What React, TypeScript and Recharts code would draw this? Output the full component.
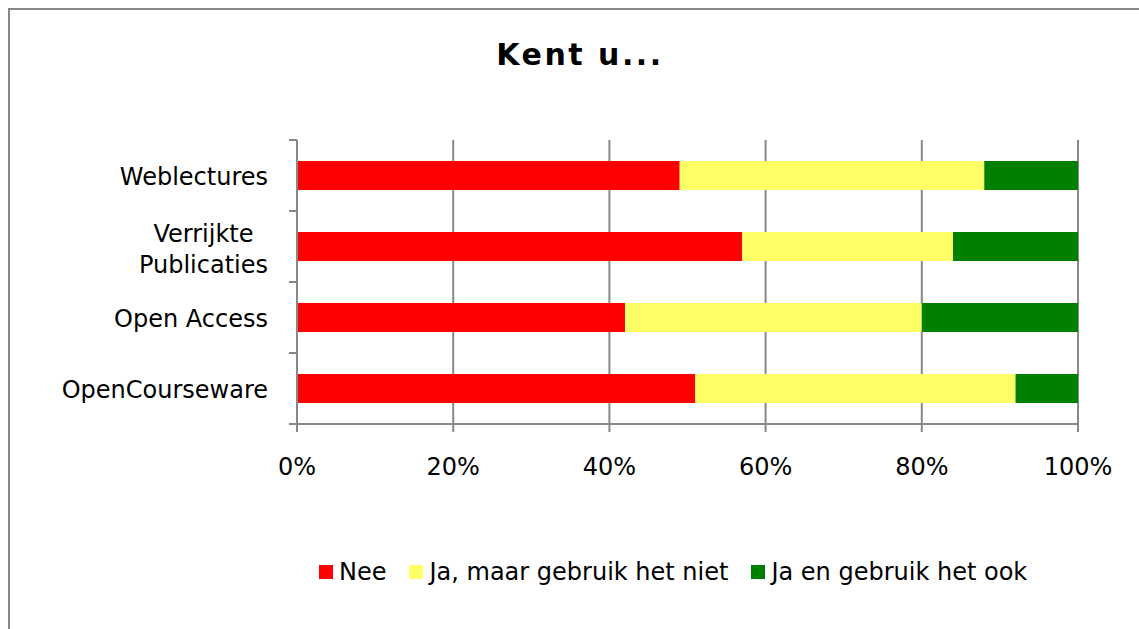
import { BarChart, Bar, XAxis, YAxis, CartesianGrid, Legend } from 'recharts'

const categories = ['Weblectures', 'Verrijkte Publicaties', 'Open Access', 'OpenCourseware']
const nee = [49, 57, 42, 51]
const jaMaarNiet = [39, 27, 38, 41]
const jaEnOok = [12, 16, 20, 8]
const xTicks = [0, 0.2, 0.4, 0.6, 0.8, 1]

const SERIES = [
  { key: 'nee', name: 'Nee', color: '#FF0000' },
  { key: 'jaMaarNiet', name: 'Ja, maar gebruik het niet', color: '#FFFF66' },
  { key: 'jaEnOok', name: 'Ja en gebruik het ook', color: '#008000' },
]

const data = categories.map((category, i) => ({
  category,
  nee: nee[i],
  jaMaarNiet: jaMaarNiet[i],
  jaEnOok: jaEnOok[i],
}))

const FONT = "'DejaVu Sans', Verdana, sans-serif"
const FS = 24
const GRAY = '#888888'
const W = 1139
const H = 629
const MARGIN = { top: 140, right: 61, bottom: 145, left: 0 }
const Y_AXIS_W = 297
const X_AXIS_H = 60
const BAND = (H - MARGIN.top - MARGIN.bottom - X_AXIS_H) / categories.length
const LABEL_RIGHT = Y_AXIS_W - 29

let ctx: CanvasRenderingContext2D | null = null
function textWidth(s: string) {
  if (!ctx) ctx = document.createElement('canvas').getContext('2d')
  if (!ctx) return s.length * 12
  ctx.font = `${FS}px ${FONT}`
  return ctx.measureText(s).width
}

function CategoryTick(props: any) {
  const { y, payload, index } = props
  const label: string = payload.value
  const lines = label.length > 15 ? label.split(' ') : [label]
  const n = lines.length
  const lh = 31
  const widest = Math.max(...lines.map(textWidth))
  const cx = LABEL_RIGHT - widest / 2
  return (
    <g>
      {lines.map((l, i) => (
        <text
          key={i}
          x={n > 1 ? cx : LABEL_RIGHT}
          y={y + 9 + (n > 1 ? 2 : 0) + (i - (n - 1) / 2) * lh}
          textAnchor={n > 1 ? 'middle' : 'end'}
          fontSize={FS}
          fontFamily={FONT}
          fill="#000"
        >
          {l}
        </text>
      ))}
      <line x1={Y_AXIS_W - 8} x2={Y_AXIS_W} y1={y - BAND / 2} y2={y - BAND / 2} stroke={GRAY} strokeWidth={2} />
      {index === categories.length - 1 && (
        <line x1={Y_AXIS_W - 8} x2={Y_AXIS_W} y1={y + BAND / 2} y2={y + BAND / 2} stroke={GRAY} strokeWidth={2} />
      )}
    </g>
  )
}

function LegendContent() {
  return (
    <div style={{ display: 'flex', alignItems: 'center', gap: 23, fontFamily: FONT, fontSize: FS, color: '#000', whiteSpace: 'nowrap' }}>
      {SERIES.map(s => (
        <div key={s.key} style={{ display: 'flex', alignItems: 'center' }}>
          <span style={{ width: 14, height: 14, background: s.color, marginRight: 6, display: 'inline-block' }} />
          <span style={{ lineHeight: '28px' }}>{s.name}</span>
        </div>
      ))}
    </div>
  )
}

export default function App() {
  return (
    <div style={{ position: 'absolute', left: 0, top: 0, width: W, height: H, overflow: 'hidden', background: '#fff' }}>
      <div style={{ position: 'absolute', left: 8, top: 8, width: 1300, height: 800, border: `2px solid ${GRAY}` }} />
      <div style={{
        position: 'absolute', left: 380, top: 40, width: 400, textAlign: 'center',
        fontFamily: FONT, fontWeight: 'bold', fontSize: 30, lineHeight: '30px', letterSpacing: 2.5, color: '#000',
      }}>
        Kent u...
      </div>
      <div style={{ position: 'absolute', left: 0, top: 0 }}>
        <BarChart layout="vertical" width={W} height={H} data={data} margin={MARGIN} stackOffset="expand">
          <CartesianGrid horizontal={false} stroke={GRAY} strokeWidth={2} />
          <XAxis
            type="number"
            domain={[0, 1]}
            ticks={xTicks}
            interval={0}
            tickFormatter={(v: number) => `${Math.round(v * 100)}%`}
            height={X_AXIS_H}
            tickSize={8}
            tickMargin={26}
            axisLine={{ stroke: GRAY, strokeWidth: 2 }}
            tickLine={{ stroke: GRAY, strokeWidth: 2 }}
            tick={{ fontSize: FS, fill: '#000', fontFamily: FONT }}
          />
          <YAxis
            type="category"
            dataKey="category"
            width={Y_AXIS_W}
            interval={0}
            tickLine={false}
            axisLine={{ stroke: GRAY, strokeWidth: 2 }}
            tick={<CategoryTick />}
          />
          <Legend
            verticalAlign="middle"
            layout="horizontal"
            wrapperStyle={{ left: 319, top: 558, width: 'auto' }}
            content={() => <LegendContent />}
          />
          {SERIES.map(s => (
            <Bar key={s.key} dataKey={s.key} name={s.name} stackId="a" fill={s.color} barSize={29} isAnimationActive={false} />
          ))}
        </BarChart>
      </div>
    </div>
  )
}
